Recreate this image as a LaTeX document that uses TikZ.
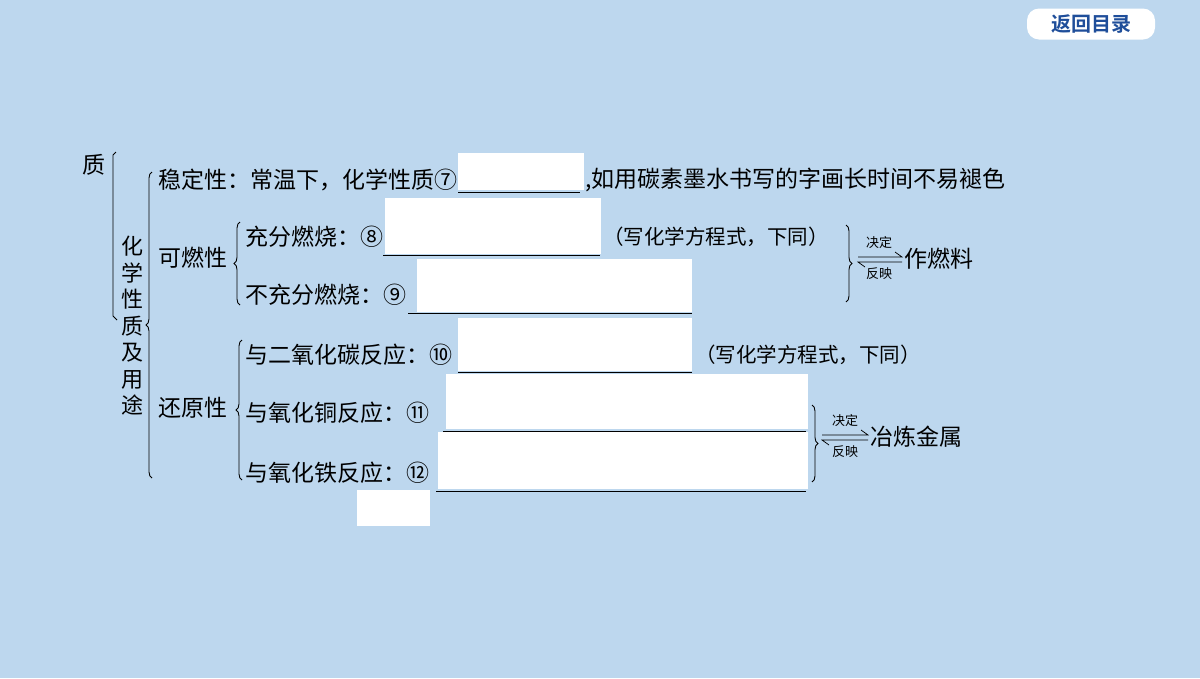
\documentclass[tikz,border=0pt]{standalone}
\usepackage{fontspec}
\setmainfont{Noto Sans CJK SC}
\newfontfamily\cjkb{Noto Sans CJK SC}[BoldFont={* Bold}]
\usetikzlibrary{decorations.pathreplacing,arrows.meta}
\definecolor{bg}{RGB}{189,215,238}
\definecolor{btn}{RGB}{31,78,154}
\tikzset{
 t/.style={anchor=west,inner sep=0pt,font=\fontsize{23}{26}\selectfont},
 sm/.style={anchor=west,inner sep=0pt,font=\fontsize{20.5}{22}\selectfont},
 tiny/.style={inner sep=0pt,font=\fontsize{13}{15}\selectfont},
 blank/.style={fill=white,draw=none},
 uline/.style={line width=0.8pt},
 brc/.style={decorate,decoration={brace,amplitude=6pt},line width=0.9pt},
}
\begin{document}
\begin{tikzpicture}[x=1pt,y=-1pt]
\fill[bg] (0,0) rectangle (1200,678);
\useasboundingbox (0,0) rectangle (1200,678);
% button
\node[fill=white,rounded corners=12pt,minimum width=128pt,minimum height=31pt,text=btn,font=\cjkb\bfseries\fontsize{20}{22}\selectfont] (btn) at (1091,24) {返回目录};
% left part
\node[t,anchor=center] (zhi) at (94,165) {质};
\draw[line width=0.9pt] (116,152) -- (113,155) -- (113,316) -- (117,320);
\node[t,anchor=north,align=center,text width=24pt,font=\fontsize{22}{26.5}\selectfont] (vt) at (132,236) {化\\学\\性\\质\\及\\用\\途};
\draw[brc] (152,478) -- (152,172);
% stability
\fill[blank] (458,153) rectangle (584,190);
\draw[uline] (458,192) -- (580,192);
\node[t] (a1) at (158,180) {稳定性：常温下，化学性质⑦};
\node[t] (a2) at (585,180) {,如用碳素墨水书写的字画长时间不易褪色};
% combustibility
\node[t] (b0) at (158,258) {可燃性};
\draw[brc] (240,305) -- (240,222);
\fill[blank] (385,198) rectangle (601,254);
\draw[uline] (383,255) -- (600,255);
\node[t] (b1) at (245,237) {充分燃烧：⑧};
\node[sm] (b1n) at (603,237) {（写化学方程式，下同）};
\fill[blank] (417,259) rectangle (692,312);
\draw[uline] (408,313) -- (692,313);
\node[t] (b2) at (245,295) {不充分燃烧：⑨};
\draw[brc] (846,225) -- (846,302);
\coordinate (ba1) at (858,257); \coordinate (ba2) at (902,257);
\draw[line width=0.7pt] (ba1) -- (ba2) -- ++(-7,-5);
\draw[line width=0.7pt] (ba2)++(0,5) -- ++(-44,0) -- ++(7,5);
\node[tiny] at (879,243) {决定};
\node[tiny] at (879,274) {反映};
\node[t] (bu) at (904,259) {作燃料};
% reducibility
\node[t] (c0) at (158,408) {还原性};
\draw[brc] (242,480) -- (242,340);
\fill[blank] (458,318) rectangle (692,371);
\draw[uline] (458,372) -- (692,372);
\node[t] (c1) at (245,355) {与二氧化碳反应：⑩};
\node[sm] (c1n) at (695,355) {（写化学方程式，下同）};
\fill[blank] (446,374) rectangle (808,429);
\draw[uline] (443,431) -- (806,431);
\node[t] (c2) at (245,413) {与氧化铜反应：⑪};
\fill[blank] (438,432) rectangle (808,489);
\draw[uline] (436,491) -- (806,491);
\node[t] (c3) at (245,473) {与氧化铁反应：⑫};
\draw[brc] (812,405) -- (812,482);
\coordinate (ca1) at (822,435); \coordinate (ca2) at (868,435);
\draw[line width=0.7pt] (ca1) -- (ca2) -- ++(-7,-5);
\draw[line width=0.7pt] (ca2)++(0,5) -- ++(-46,0) -- ++(7,5);
\node[tiny] at (845,421) {决定};
\node[tiny] at (845,452) {反映};
\node[t] (cu) at (870,437) {冶炼金属};
\fill[blank] (357,490) rectangle (430,526);
\end{tikzpicture}
\end{document}
